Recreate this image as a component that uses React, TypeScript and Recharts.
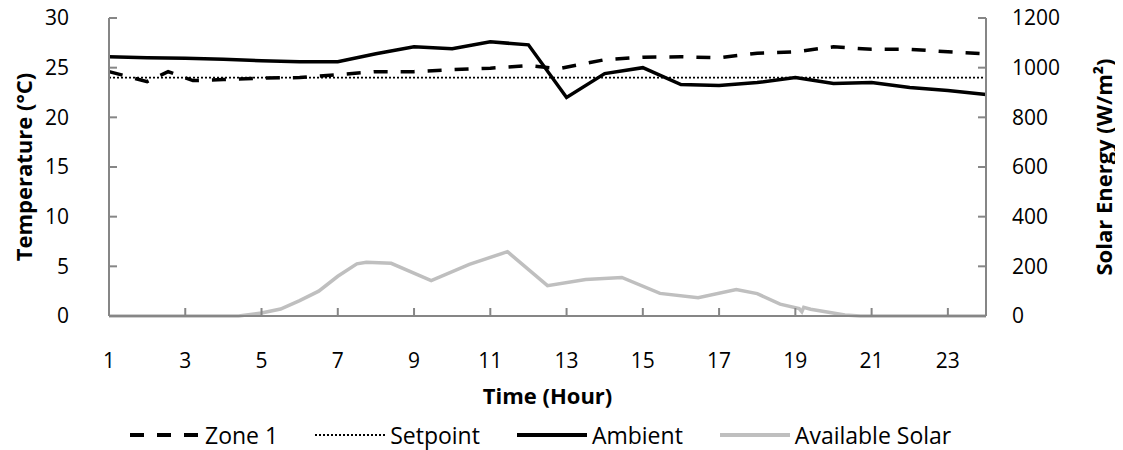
import { LineChart, Line, XAxis, YAxis, Legend } from 'recharts'

// hour of day
const ambientHours = [1, 2, 3, 4, 5, 6, 7, 8, 9, 10, 11, 12, 13, 14, 15, 16, 17, 18, 19, 20, 21, 22, 23, 24]
const ambientTemps = [26.1, 26.0, 25.95, 25.85, 25.7, 25.6, 25.6, 26.4, 27.1, 26.9, 27.6, 27.3, 22.0, 24.4, 25.0, 23.3, 23.2, 23.5, 24.0, 23.4, 23.5, 23.0, 22.7, 22.3]

const zoneHours = [1, 2, 2.55, 3.2, 4, 5, 6, 7, 8, 9, 10, 11, 12, 12.8, 14, 15, 16, 17, 18, 19, 20, 21, 22, 23, 24]
const zoneTemps = [24.6, 23.6, 24.6, 23.7, 23.8, 23.95, 24.0, 24.3, 24.6, 24.6, 24.8, 24.95, 25.2, 24.9, 25.8, 26.05, 26.1, 26.0, 26.45, 26.6, 27.1, 26.85, 26.85, 26.6, 26.4]

const setpointHours = [1, 24]
const setpointTemps = [24, 24]

const solarHours = [1, 4.4, 5, 5.5, 6, 6.5, 7, 7.5, 7.75, 8.4, 9.45, 10.45, 11.45, 12.5, 13.5, 14.45, 15.45, 16.45, 17.45, 18, 18.6, 19.1, 19.17, 19.22, 19.4, 20.3, 20.7, 24]
const solarValues = [0, 0, 12, 28, 62, 100, 160, 210, 216, 212, 143, 208, 259, 122, 147, 155, 91, 74, 107, 90, 48, 30, 17, 35, 27, 4, 0, 0]

const xTicks = [1, 3, 5, 7, 9, 11, 13, 15, 17, 19, 21, 23]
const tempTicks = [0, 5, 10, 15, 20, 25, 30]
const solarTicks = [0, 200, 400, 600, 800, 1000, 1200]

const toPoints = (xs: number[], ys: number[]) => xs.map((h, i) => ({ hour: h, value: ys[i] }))

const ambient = toPoints(ambientHours, ambientTemps)
const zone = toPoints(zoneHours, zoneTemps)
const setpoint = toPoints(setpointHours, setpointTemps)
const solar = toPoints(solarHours, solarValues)

const FONT = '"Open Sans", sans-serif'
const AXIS = '#868686'
const GREY = '#bfbfbf'
const ZONE_DASH = '14 13'

const legendItems = [
  { name: 'Zone 1', color: '#000', width: 4, dash: ZONE_DASH },
  { name: 'Setpoint', color: '#000', width: 1.8, dash: '2 2' },
  { name: 'Ambient', color: '#000', width: 4, dash: undefined },
  { name: 'Available Solar', color: GREY, width: 4, dash: undefined },
]

function ChartLegend() {
  return (
    <div style={{ display: 'flex', alignItems: 'center', fontFamily: FONT, fontSize: 23, color: '#000', lineHeight: '22px', height: 24 }}>
      {legendItems.map((it) => (
        <div key={it.name} style={{ display: 'flex', alignItems: 'center', marginRight: 37 }}>
          <svg width={70} height={10}>
            <line x1={0} y1={5} x2={70} y2={5} stroke={it.color} strokeWidth={it.width} strokeDasharray={it.dash} />
          </svg>
          <span style={{ marginLeft: 5 }}>{it.name}</span>
        </div>
      ))}
    </div>
  )
}

function VerticalTitle({ viewBox, text, posX }: any) {
  const cy = viewBox.y + viewBox.height / 2
  return (
    <text
      x={posX}
      y={cy}
      transform={`rotate(-90, ${posX}, ${cy})`}
      textAnchor="middle"
      dominantBaseline="central"
      fontFamily={FONT}
      fontWeight="bold"
      fontSize={22}
      fill="#000"
    >
      {text}
    </text>
  )
}

const tickStyle = { fontFamily: FONT, fontSize: 21, fill: '#000' }

export default function App() {
  return (
    <div style={{ marginTop: -8, marginLeft: -8, width: 1123, height: 450 }}>
      <LineChart width={1123} height={450} margin={{ top: 18, right: 0, bottom: 3, left: 0 }}>
        <XAxis
          dataKey="hour"
          type="number"
          domain={[1, 24]}
          ticks={xTicks}
          allowDuplicatedCategory={false}
          height={107}
          stroke={AXIS}
          strokeWidth={2}
          tickSize={-8}
          tickMargin={45}
          tick={tickStyle}
          label={{ value: 'Time (Hour)', position: 'insideTop', offset: 72, style: { fontFamily: FONT, fontWeight: 'bold', fontSize: 22, fill: '#000' } }}
        />
        <YAxis
          yAxisId="temp"
          domain={[0, 30]}
          ticks={tempTicks}
          width={109}
          stroke={AXIS}
          strokeWidth={2}
          tickSize={-8}
          tickMargin={48}
          tick={tickStyle}
          label={<VerticalTitle text="Temperature (°C)" posX={23} />}
        />
        <YAxis
          yAxisId="solar"
          orientation="right"
          domain={[0, 1200]}
          ticks={solarTicks}
          width={137}
          stroke={AXIS}
          strokeWidth={2}
          tickSize={-8}
          tickMargin={34}
          tick={{ ...tickStyle, textAnchor: 'start' }}
          label={<VerticalTitle text="Solar Energy (W/m²)" posX={1103} />}
        />
        <Legend
          verticalAlign="bottom"
          height={24}
          wrapperStyle={{ left: 130, width: 940 }}
          content={() => <ChartLegend />}
        />
        <Line yAxisId="solar" data={solar} dataKey="value" name="Available Solar" stroke={GREY} strokeWidth={3.5} dot={false} type="linear" isAnimationActive={false} />
        <Line yAxisId="temp" data={setpoint} dataKey="value" name="Setpoint" stroke="#000" strokeWidth={1.8} strokeDasharray="2 2" dot={false} type="linear" isAnimationActive={false} />
        <Line yAxisId="temp" data={ambient} dataKey="value" name="Ambient" stroke="#000" strokeWidth={3.5} dot={false} type="linear" isAnimationActive={false} />
        <Line yAxisId="temp" data={zone} dataKey="value" name="Zone 1" stroke="#000" strokeWidth={3.5} strokeDasharray={ZONE_DASH} dot={false} type="linear" isAnimationActive={false} />
      </LineChart>
    </div>
  )
}
